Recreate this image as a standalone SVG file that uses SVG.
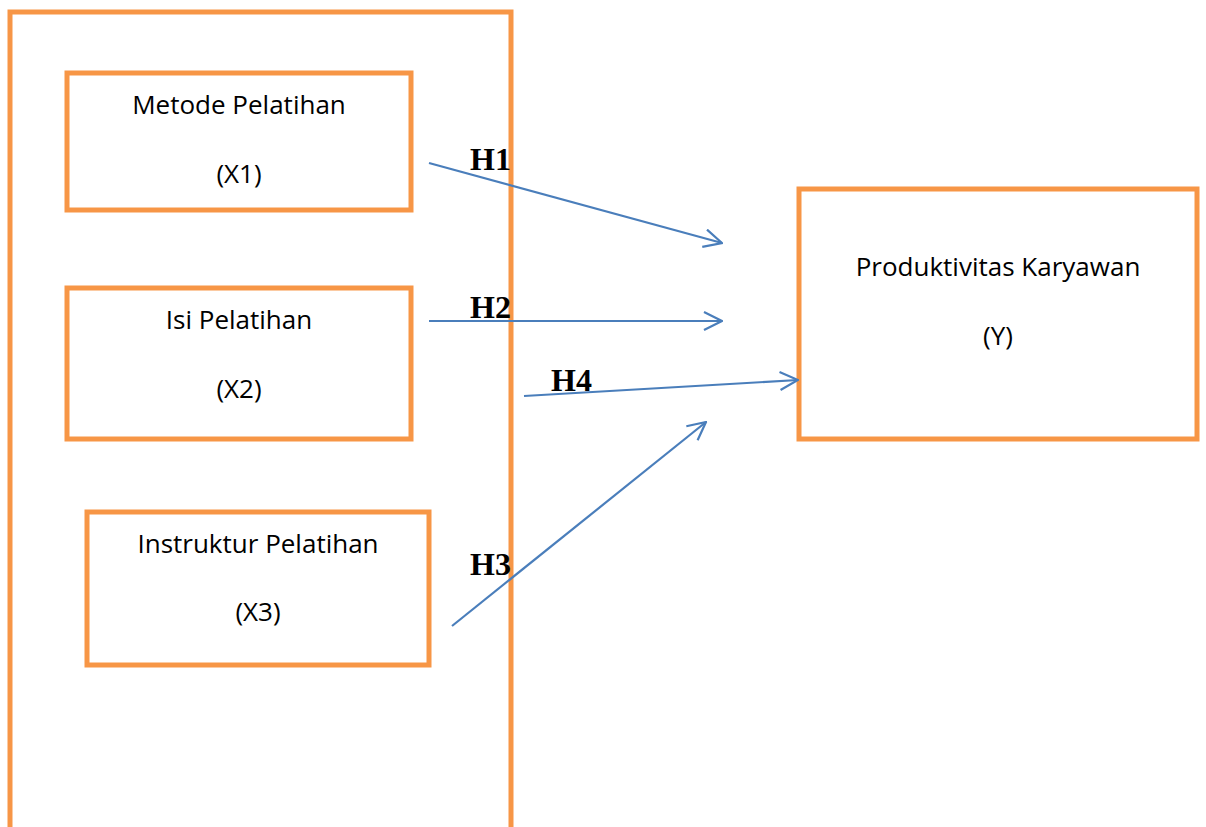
<svg xmlns="http://www.w3.org/2000/svg" width="1206" height="827" viewBox="0 0 1206 827">
<style>
.box{fill:#fff;stroke:#F79646;stroke-width:5}
.frame{fill:none;stroke:#F79646;stroke-width:5}
.t{font-family:"Open Sans","Noto Sans",sans-serif;font-size:26px;fill:#000;text-anchor:middle}
.h{font-family:"Liberation Serif","Times New Roman",serif;font-size:32px;font-weight:bold;fill:#000}
.c{stroke:#4A7EBB;stroke-width:2.2;fill:none;marker-end:url(#ah)}
</style>
<defs>
<marker id="ah" viewBox="0 0 20 20" refX="19" refY="10" markerWidth="20" markerHeight="20" markerUnits="userSpaceOnUse" orient="auto">
<path d="M1,1 L19,10 L1,19" fill="none" stroke="#4A7EBB" stroke-width="2.2"/>
</marker>
</defs>
<rect width="1206" height="827" fill="#fff"/>
<path id="frame" class="frame" d="M10,830 L10,12 L511,12 L511,830"/>
<g id="x1"><rect class="box" x="67" y="73" width="344" height="137"/><text class="t" x="239" y="114">Metode Pelatihan</text><text class="t" x="239" y="183">(X1)</text></g>
<g id="x2"><rect class="box" x="67" y="288" width="344" height="151"/><text class="t" x="239" y="329">Isi Pelatihan</text><text class="t" x="239" y="398">(X2)</text></g>
<g id="x3"><rect class="box" x="87" y="512" width="342" height="153"/><text class="t" x="258" y="553">Instruktur Pelatihan</text><text class="t" x="258" y="621">(X3)</text></g>
<g id="y"><rect class="box" x="799" y="189" width="398" height="250"/><text class="t" x="998" y="276">Produktivitas Karyawan</text><text class="t" x="998" y="345">(Y)</text></g>
<g id="connectors">
<line class="c" x1="429" y1="163" x2="722" y2="243"/>
<line class="c" x1="429" y1="321" x2="722" y2="321"/>
<line class="c" x1="524" y1="396" x2="798" y2="380"/>
<line class="c" x1="452" y1="626" x2="706" y2="422"/>
</g>
<g id="labels">
<text class="h" x="470" y="170">H1</text>
<text class="h" x="470" y="318">H2</text>
<text class="h" x="551" y="391">H4</text>
<text class="h" x="470" y="575">H3</text>
</g>
</svg>
